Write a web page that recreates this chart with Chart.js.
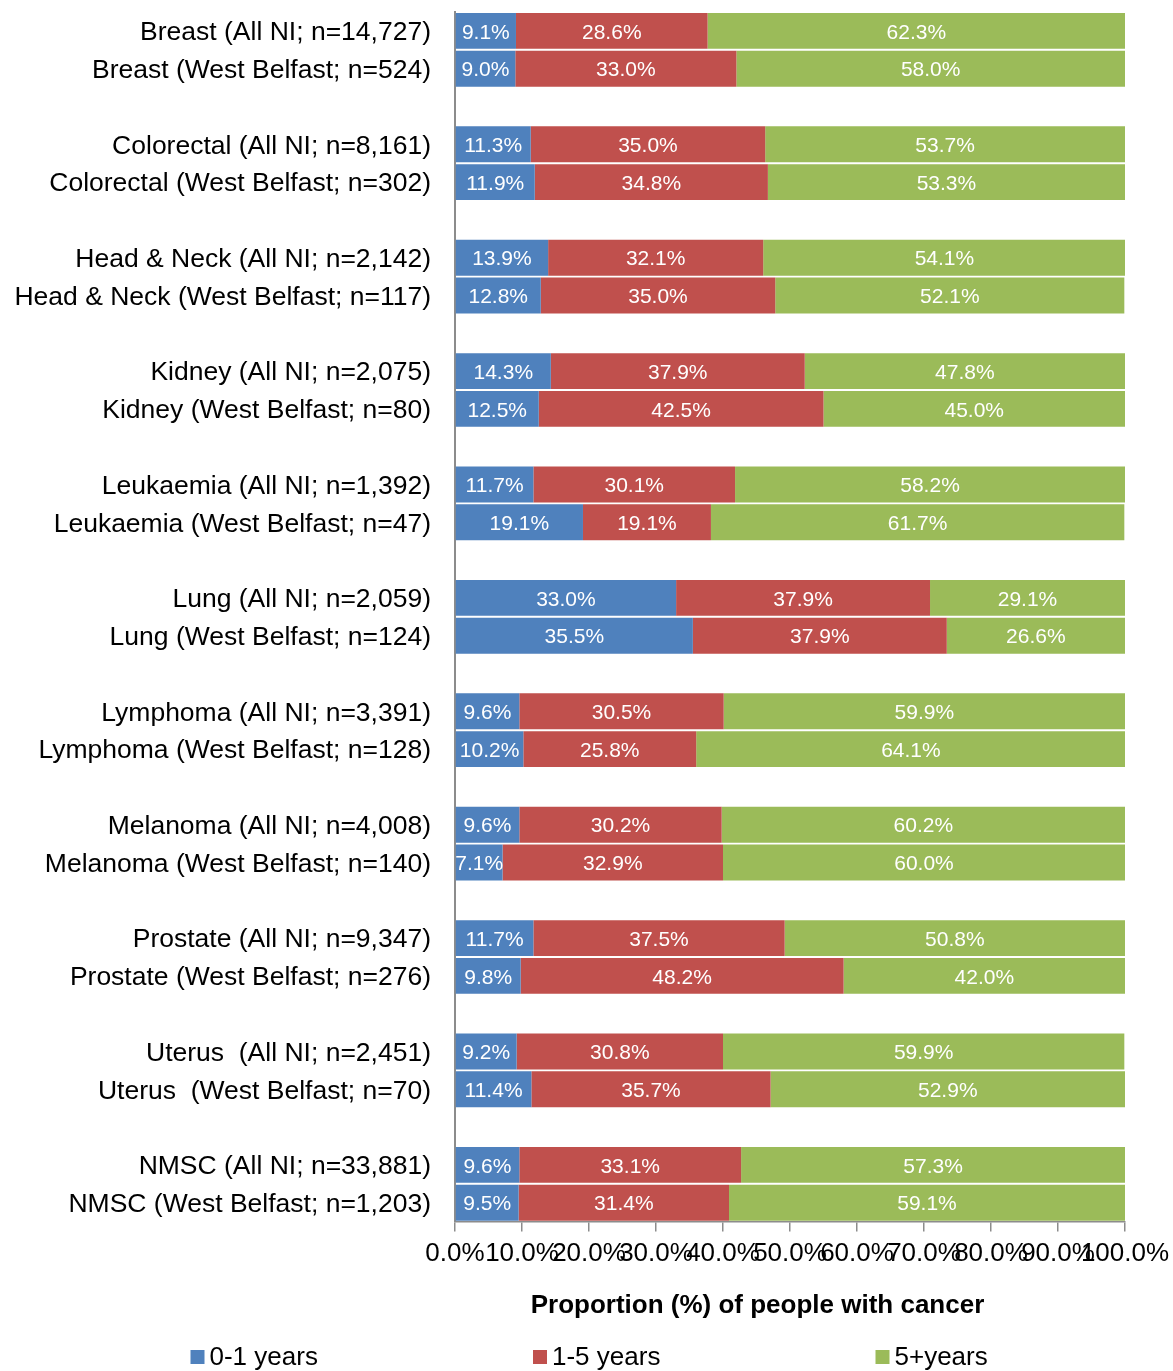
<!DOCTYPE html>
<html>
<head>
<meta charset="utf-8">
<script src="https://cdn.jsdelivr.net/npm/chart.js@4.4.0/dist/chart.umd.min.js"></script>
<style>
  html, body { margin: 0; padding: 0; background: #fff; }
  #wrap { width: 1173px; height: 1371px; }
</style>
</head>
<body>
<div id="wrap"><canvas id="survChart"></canvas></div>
<script>
// one row per bar, '' = gap between cancer sites
var rowLabels = [
  'Breast (All NI; n=14,727)', 'Breast (West Belfast; n=524)', '',
  'Colorectal (All NI; n=8,161)', 'Colorectal (West Belfast; n=302)', '',
  'Head & Neck (All NI; n=2,142)', 'Head & Neck (West Belfast; n=117)', '',
  'Kidney (All NI; n=2,075)', 'Kidney (West Belfast; n=80)', '',
  'Leukaemia (All NI; n=1,392)', 'Leukaemia (West Belfast; n=47)', '',
  'Lung (All NI; n=2,059)', 'Lung (West Belfast; n=124)', '',
  'Lymphoma (All NI; n=3,391)', 'Lymphoma (West Belfast; n=128)', '',
  'Melanoma (All NI; n=4,008)', 'Melanoma (West Belfast; n=140)', '',
  'Prostate (All NI; n=9,347)', 'Prostate (West Belfast; n=276)', '',
  'Uterus  (All NI; n=2,451)', 'Uterus  (West Belfast; n=70)', '',
  'NMSC (All NI; n=33,881)', 'NMSC (West Belfast; n=1,203)'
];

var years0to1 = [9.1, 9.0, null, 11.3, 11.9, null, 13.9, 12.8, null, 14.3, 12.5, null,
  11.7, 19.1, null, 33.0, 35.5, null, 9.6, 10.2, null, 9.6, 7.1, null,
  11.7, 9.8, null, 9.2, 11.4, null, 9.6, 9.5];
var years1to5 = [28.6, 33.0, null, 35.0, 34.8, null, 32.1, 35.0, null, 37.9, 42.5, null,
  30.1, 19.1, null, 37.9, 37.9, null, 30.5, 25.8, null, 30.2, 32.9, null,
  37.5, 48.2, null, 30.8, 35.7, null, 33.1, 31.4];
var years5plus = [62.3, 58.0, null, 53.7, 53.3, null, 54.1, 52.1, null, 47.8, 45.0, null,
  58.2, 61.7, null, 29.1, 26.6, null, 59.9, 64.1, null, 60.2, 60.0, null,
  50.8, 42.0, null, 59.9, 52.9, null, 57.3, 59.1];

var seriesNames = ['0-1 years', '1-5 years', '5+years'];
var xTicks = [0, 10, 20, 30, 40, 50, 60, 70, 80, 90, 100];

var FONT = "'Liberation Sans', Arial, sans-serif";
var colors = ['#4F81BD', '#C0504D', '#9BBB59'];

// value labels inside each segment
var barText = {
  id: 'barText',
  afterDatasetsDraw: function(chart) {
    var ctx = chart.ctx;
    ctx.save();
    ctx.font = '21px ' + FONT;
    ctx.fillStyle = '#fff';
    ctx.textAlign = 'center';
    ctx.textBaseline = 'middle';
    chart.data.datasets.forEach(function(ds, i) {
      chart.getDatasetMeta(i).data.forEach(function(el, j) {
        var v = ds.data[j];
        if (v === null) return;
        ctx.fillText(v.toFixed(1) + '%', (el.x + el.base) / 2, el.y + 2);
      });
    });
    ctx.restore();
  }
};

// wide-spaced legend along the bottom
var bottomLegend = {
  id: 'bottomLegend',
  afterDraw: function(chart) {
    var ctx = chart.ctx;
    var y = chart.height - 14;
    ctx.save();
    ctx.font = '26px ' + FONT;
    ctx.textBaseline = 'middle';
    ctx.textAlign = 'left';
    seriesNames.forEach(function(name, i) {
      var x = chart.width / 2 - 396 + i * 342.5;
      ctx.fillStyle = colors[i];
      ctx.fillRect(x, y - 7, 14, 14);
      ctx.fillStyle = '#000';
      ctx.fillText(name, x + 19, y + 1);
    });
    ctx.restore();
  }
};

var ctx = document.getElementById('survChart');
new Chart(ctx, {
  type: 'bar',
  data: {
    labels: rowLabels,
    datasets: [
      { label: seriesNames[0], data: years0to1, backgroundColor: colors[0] },
      { label: seriesNames[1], data: years1to5, backgroundColor: colors[1] },
      { label: seriesNames[2], data: years5plus, backgroundColor: colors[2] }
    ]
  },
  options: {
    indexAxis: 'y',
    responsive: true,
    maintainAspectRatio: false,
    animation: false,
    categoryPercentage: 1,
    barPercentage: 0.95,
    layout: { padding: { top: 12, right: 48, left: 0, bottom: 50 } },
    plugins: {
      legend: { display: false },
      tooltip: { enabled: false }
    },
    scales: {
      x: {
        stacked: true,
        min: 0,
        max: 100,
        afterBuildTicks: function(scale) {
          scale.ticks = xTicks.map(function(v) { return { value: v }; });
        },
        afterFit: function(scale) {
          scale.paddingLeft = 0;
          scale.paddingRight = 0;
        },
        ticks: {
          autoSkip: false,
          maxRotation: 0,
          minRotation: 0,
          padding: 7,
          color: '#000',
          font: { family: FONT, size: 26 },
          callback: function(v) { return Number(v).toFixed(1) + '%'; }
        },
        grid: { drawOnChartArea: false, drawTicks: true, tickLength: 10, color: '#8c8c8c', lineWidth: 1.5 },
        border: { display: true, color: '#8c8c8c', width: 1.5 },
        title: {
          display: true,
          text: 'Proportion (%) of people with cancer         ',
          color: '#000',
          font: { family: FONT, size: 26, weight: 'bold' },
          padding: { top: 13, bottom: 0 }
        }
      },
      y: {
        stacked: true,
        afterFit: function(scale) {
          scale.width = 455;
          scale.paddingTop = 0;
          scale.paddingBottom = 0;
        },
        ticks: {
          autoSkip: false,
          padding: 24,
          labelOffset: 2,
          color: '#000',
          font: { family: FONT, size: 26.5 }
        },
        grid: { display: false, drawTicks: false },
        border: { display: true, color: '#8c8c8c', width: 2 }
      }
    }
  },
  plugins: [barText, bottomLegend]
});
</script>
</body>
</html>
